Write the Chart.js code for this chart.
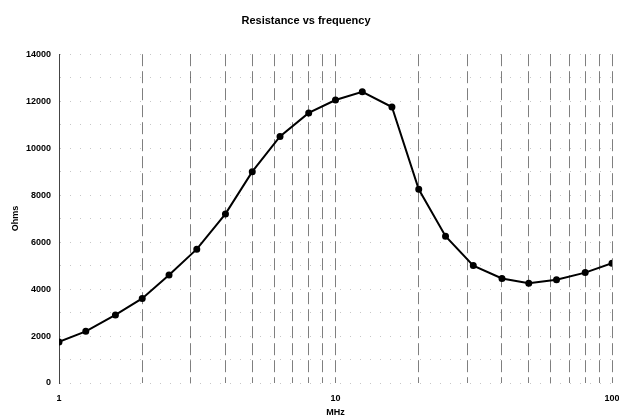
<!DOCTYPE html>
<html>
<head>
<meta charset="utf-8">
<script src="https://cdn.jsdelivr.net/npm/chart.js@4/dist/chart.umd.min.js"></script>
<style>
  html, body { margin: 0; padding: 0; background: #fff; }
  #wrap { width: 619px; height: 420px; }
</style>
</head>
<body>
<div id="wrap"><canvas id="resChart" width="619" height="420"></canvas></div>
<script>
// frequency points (MHz) and measured resistance (Ohms)
var freqs = [1, 1.25, 1.6, 2, 2.5, 3.15, 4, 5, 6.3, 8, 10, 12.5, 16, 20, 25, 31.5, 40, 50, 63, 80, 100];
var ohms = [1750, 2200, 2900, 3600, 4600, 5700, 7200, 9000, 10500, 11500, 12050, 12400, 11750, 8250, 6250, 5000, 4450, 4250, 4400, 4700, 5100];

// log grid positions and labelled ticks
var xGridValues = [1, 2, 3, 4, 5, 6, 7, 8, 9, 10, 20, 30, 40, 50, 60, 70, 80, 90, 100];
var xTickLabels = [1, 10, 100];
var yTickLabels = [0, 2000, 4000, 6000, 8000, 10000, 12000, 14000];

Chart.defaults.font.family = "'Liberation Sans', Arial, sans-serif";
Chart.defaults.color = "#000";

var points = [];
for (var i = 0; i < freqs.length; i++) {
    points.push({x: freqs[i], y: ohms[i]});
}

var ctx = document.getElementById("resChart");
var resChart = new Chart(ctx, {
    type: 'line',
    data: {
        datasets: [{
            data: points,
            fill: false,
            borderColor: "#000",
            backgroundColor: "#000",
            borderWidth: 2,
            pointRadius: 2.5,
            pointStyle: 'circle',
            tension: 0
        }]
    },
    options: {
        responsive: false,
        animation: false,
        layout: {padding: {left: 0, right: 7, top: 0, bottom: 0}},
        plugins: {
            legend: {display: false},
            tooltip: {enabled: false},
            title: {
                display: true,
                text: "Resistance vs frequency",
                font: {size: 11, weight: 'bold'},
                color: "#000",
                padding: {top: 14, bottom: 27}
            }
        },
        scales: {
            x: {
                type: 'logarithmic',
                min: 1,
                max: 100,
                afterBuildTicks: function (scale) {
                    scale.ticks = xGridValues.map(function (v) { return {value: v}; });
                },
                afterFit: function (scale) {
                    scale.height = 37;
                    scale.paddingLeft = 0;
                    scale.paddingRight = 0;
                },
                ticks: {
                    autoSkip: false,
                    maxRotation: 0,
                    padding: 10,
                    font: {size: 9, weight: 'bold'},
                    callback: function (value) {
                        return xTickLabels.indexOf(value) >= 0 ? String(value) : '';
                    }
                },
                grid: {
                    drawTicks: false,
                    color: "rgba(0,0,0,0.5)",
                    lineWidth: 1
                },
                border: {display: false, dash: [12, 5]},
                title: {
                    display: true,
                    text: "MHz",
                    font: {size: 9, weight: 'bold'},
                    padding: {top: 0, bottom: 2}
                }
            },
            y: {
                min: 0,
                max: 14000,
                afterFit: function (scale) { scale.width = 59; },
                ticks: {
                    stepSize: 1000,
                    padding: 8,
                    font: {size: 9, weight: 'bold'},
                    callback: function (value) {
                        return yTickLabels.indexOf(value) >= 0 ? String(value) : '';
                    }
                },
                grid: {
                    drawTicks: false,
                    color: "rgba(0,0,0,0.22)",
                    lineWidth: 1
                },
                border: {display: true, color: "#444", width: 1, dash: [1, 9]},
                title: {
                    display: true,
                    text: "Ohms",
                    font: {size: 9, weight: 'bold'},
                    padding: {top: 10, bottom: 0}
                }
            }
        }
    }
});
</script>
</body>
</html>
